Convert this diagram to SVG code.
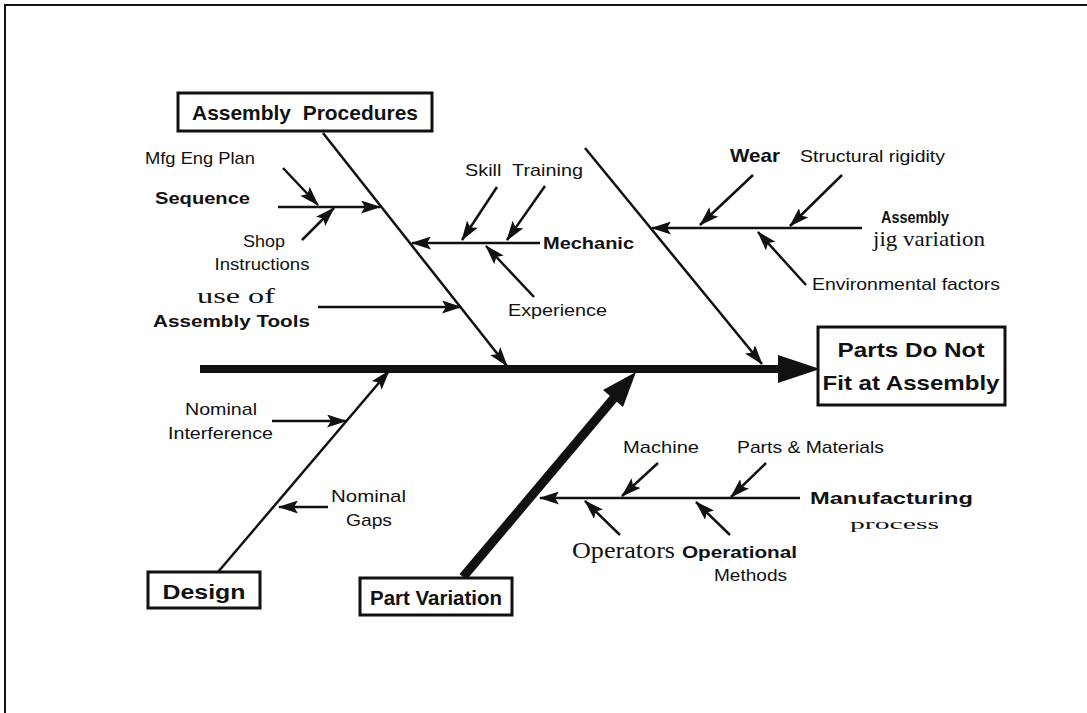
<svg xmlns="http://www.w3.org/2000/svg" width="1087" height="713" viewBox="0 0 1087 713">
<defs>
<style>
text{font-family:"Liberation Sans",Arial,sans-serif;fill:#111;}
.b{font-weight:bold;}
.box{font-weight:bold;font-size:21px;}
.l{font-size:17px;}
.s{font-family:"Liberation Serif","Times New Roman",serif;}
.ln{stroke:#111;stroke-width:2.5;fill:none;}
.bone{stroke:#111;stroke-width:2.5;fill:none;}
.frame{fill:#fff;stroke:#111;stroke-width:3;}
</style>
<marker id="ah" markerUnits="userSpaceOnUse" markerWidth="20" markerHeight="13" viewBox="0 0 20 13" refX="19" refY="6.5" orient="auto">
<path d="M0,0 L20,6.5 L0,13 L4,6.5 z" fill="#111"/>
</marker>
</defs>
<rect width="1087" height="713" fill="#fff"/>
<path d="M5,713 V5 H1087" fill="none" stroke="#111" stroke-width="2"/>

<g id="connectors">
<line x1="200" y1="369" x2="782" y2="369" stroke="#111" stroke-width="8"/>
<polygon points="778,355 820,369 778,383" fill="#111"/>
<line class="bone" x1="323" y1="133" x2="507" y2="366" marker-end="url(#ah)"/>
<line class="bone" x1="585" y1="148" x2="762" y2="364" marker-end="url(#ah)"/>
<line class="bone" x1="218" y1="572" x2="389" y2="371" marker-end="url(#ah)"/>
<line x1="463" y1="577" x2="614" y2="398" stroke="#111" stroke-width="9"/>
<polygon points="636,372 623,407 603,390" fill="#111"/>
<line class="ln" x1="278" y1="207" x2="380" y2="207" marker-end="url(#ah)"/>
<line class="ln" x1="283" y1="168" x2="318" y2="205" marker-end="url(#ah)"/>
<line class="ln" x1="302" y1="240" x2="334" y2="208" marker-end="url(#ah)"/>
<line class="ln" x1="318" y1="307" x2="461" y2="307" marker-end="url(#ah)"/>
<line class="ln" x1="540" y1="243" x2="412" y2="243" marker-end="url(#ah)"/>
<line class="ln" x1="497" y1="187" x2="462" y2="240" marker-end="url(#ah)"/>
<line class="ln" x1="545" y1="186" x2="507" y2="240" marker-end="url(#ah)"/>
<line class="ln" x1="534" y1="297" x2="486" y2="246" marker-end="url(#ah)"/>
<line class="ln" x1="862" y1="228" x2="652" y2="228" marker-end="url(#ah)"/>
<line class="ln" x1="753" y1="175" x2="700" y2="225" marker-end="url(#ah)"/>
<line class="ln" x1="842" y1="175" x2="790" y2="226" marker-end="url(#ah)"/>
<line class="ln" x1="806" y1="285" x2="758" y2="232" marker-end="url(#ah)"/>
<line class="ln" x1="272" y1="421" x2="346" y2="421" marker-end="url(#ah)"/>
<line class="ln" x1="328" y1="507" x2="279" y2="507" marker-end="url(#ah)"/>
<line class="ln" x1="800" y1="498" x2="540" y2="498" stroke-width="3" marker-end="url(#ah)"/>
<line class="ln" x1="658" y1="463" x2="622" y2="496" marker-end="url(#ah)"/>
<line class="ln" x1="766" y1="463" x2="731" y2="497" marker-end="url(#ah)"/>
<line class="ln" x1="620" y1="535" x2="585" y2="501" marker-end="url(#ah)"/>
<line class="ln" x1="730" y1="535" x2="696" y2="502" marker-end="url(#ah)"/>
</g>

<g id="effect">
<rect class="frame" x="818" y="327" width="187" height="78"/>
<text class="box" x="911" y="357" text-anchor="middle" textLength="147" lengthAdjust="spacingAndGlyphs">Parts Do Not</text>
<text class="box" x="911" y="390" text-anchor="middle" textLength="177" lengthAdjust="spacingAndGlyphs">Fit at Assembly</text>
</g>

<g id="assembly-procedures">
<rect class="frame" x="178" y="93" width="254" height="38"/>
<text class="box" x="305" y="120" text-anchor="middle" xml:space="preserve" textLength="226" lengthAdjust="spacingAndGlyphs">Assembly  Procedures</text>
</g>

<g id="design">
<rect class="frame" x="148" y="572" width="112" height="36"/>
<text class="box" x="204" y="599" font-size="23" text-anchor="middle" textLength="83" lengthAdjust="spacingAndGlyphs">Design</text>
</g>

<g id="part-variation">
<rect class="frame" x="360" y="578" width="152" height="37"/>
<text class="box" x="436" y="605" font-size="23" text-anchor="middle" textLength="132" lengthAdjust="spacingAndGlyphs">Part Variation</text>
</g>

<g id="ap-causes">
<text class="l" x="145" y="164" textLength="110" lengthAdjust="spacingAndGlyphs">Mfg Eng Plan</text>
<text class="l b" x="155" y="204" textLength="95" lengthAdjust="spacingAndGlyphs">Sequence</text>
<text class="l" x="264" y="247" text-anchor="middle" textLength="42" lengthAdjust="spacingAndGlyphs">Shop</text>
<text class="l" x="262" y="270" text-anchor="middle" textLength="95" lengthAdjust="spacingAndGlyphs">Instructions</text>
<text class="s" x="197" y="303" font-size="20" textLength="78" lengthAdjust="spacingAndGlyphs">use of</text>
<text class="l b" x="153" y="327" textLength="157" lengthAdjust="spacingAndGlyphs">Assembly Tools</text>
</g>

<g id="mechanic">
<text class="l" x="465" y="176" xml:space="preserve" textLength="118" lengthAdjust="spacingAndGlyphs">Skill  Training</text>
<text class="l b" x="543" y="249" textLength="91" lengthAdjust="spacingAndGlyphs">Mechanic</text>
<text class="l" x="508" y="316" textLength="99" lengthAdjust="spacingAndGlyphs">Experience</text>
</g>

<g id="jig">
<text class="b" x="730" y="162" font-size="19" textLength="50" lengthAdjust="spacingAndGlyphs">Wear</text>
<text class="l" x="800" y="162" textLength="145" lengthAdjust="spacingAndGlyphs">Structural rigidity</text>
<text class="l b" x="881" y="223" textLength="68" lengthAdjust="spacingAndGlyphs">Assembly</text>
<text class="s" x="873" y="246" font-size="21" textLength="112" lengthAdjust="spacingAndGlyphs">jig variation</text>
<text class="l" x="812" y="290" textLength="188" lengthAdjust="spacingAndGlyphs">Environmental factors</text>
</g>

<g id="design-causes">
<text class="l" x="185" y="415" textLength="72" lengthAdjust="spacingAndGlyphs">Nominal</text>
<text class="l" x="168" y="439" textLength="105" lengthAdjust="spacingAndGlyphs">Interference</text>
<text class="l" x="331" y="502" textLength="75" lengthAdjust="spacingAndGlyphs">Nominal</text>
<text class="l" x="346" y="526" textLength="46" lengthAdjust="spacingAndGlyphs">Gaps</text>
</g>

<g id="manufacturing">
<text class="l" x="623" y="453" textLength="76" lengthAdjust="spacingAndGlyphs">Machine</text>
<text class="l" x="737" y="453" textLength="147" lengthAdjust="spacingAndGlyphs">Parts &amp; Materials</text>
<text class="l b" x="810" y="504" textLength="163" lengthAdjust="spacingAndGlyphs">Manufacturing</text>
<text class="s" x="850" y="529" font-size="15" textLength="89" lengthAdjust="spacingAndGlyphs">process</text>
<text class="s" x="572" y="558" font-size="23" textLength="103" lengthAdjust="spacingAndGlyphs">Operators</text>
<text class="l b" x="682" y="558" textLength="115" lengthAdjust="spacingAndGlyphs">Operational</text>
<text class="l" x="714" y="581" textLength="73" lengthAdjust="spacingAndGlyphs">Methods</text>
</g>
</svg>
